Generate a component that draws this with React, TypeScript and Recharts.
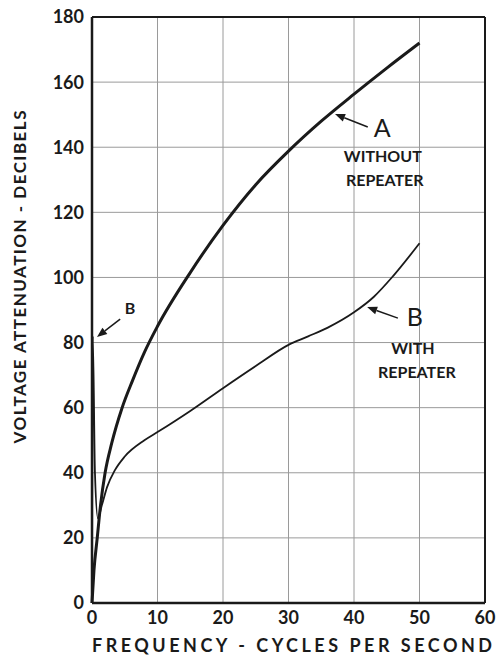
import React from "react";
import {
  LineChart,
  Line,
  XAxis,
  YAxis,
  CartesianGrid,
  ReferenceLine,
  ReferenceDot,
} from "recharts";

// curve A - without repeater (frequency, attenuation dB)
const freqA = [0, 0.3, 0.8, 1.3, 2, 3, 4.6, 6.2, 8, 10, 15, 20, 25, 30, 35, 40, 45, 50];
const dbA = [0, 10, 20, 30, 40, 49, 60, 68.4, 77, 85, 101.5, 116, 128.5, 138.8, 148, 156.3, 164.3, 172];

// curve B - with repeater
const freqB = [0, 0.12, 0.45, 0.9, 1.5, 2.3, 3.5, 5, 8, 10, 15, 20, 25, 30, 33, 36, 40, 43, 46, 50];
const dbB = [0, 82, 40, 26, 30, 35.6, 40.8, 45, 50, 52.5, 59, 66, 72.8, 79.3, 81.9, 84.6, 89.3, 94, 100.5, 110.5];

const xTicks = [0, 10, 20, 30, 40, 50, 60];
const yTicks = [0, 20, 40, 60, 80, 100, 120, 140, 160, 180];

const dataA = freqA.map((x, i) => ({ x, y: dbA[i] }));
const dataB = freqB.map((x, i) => ({ x, y: dbB[i] }));

const INK = "#1a1a1a";
const FONT = "Lato, 'DejaVu Sans', sans-serif";

// arrow drawn from (x1,y1) tail to (x2,y2) tip
const arrow = (props: any) => {
  const { x1, y1, x2, y2 } = props;
  const dx = x2 - x1, dy = y2 - y1;
  const len = Math.sqrt(dx * dx + dy * dy) || 1;
  const ux = dx / len, uy = dy / len;
  const hl = 10, hw = 4;
  const bx = x2 - ux * hl, by = y2 - uy * hl;
  const pts = `${x2},${y2} ${bx - uy * hw},${by + ux * hw} ${bx + uy * hw},${by - ux * hw}`;
  return (
    <g>
      <line x1={x1} y1={y1} x2={bx} y2={by} stroke={INK} strokeWidth={1.5} />
      <polygon points={pts} fill={INK} />
    </g>
  );
};

const note = (value: string, size: number, weight: number) => ({
  value,
  position: "center" as const,
  fontSize: size,
  fontWeight: weight,
  fill: INK,
  fontFamily: FONT,
});

export default function App() {
  return (
    <div style={{ position: "absolute", left: 0, top: 0, background: "#fff" }}>
      <LineChart
        width={503}
        height={658}
        margin={{ top: 17, right: 18, bottom: 0, left: 12 }}
      >
        <CartesianGrid stroke="#9a9a9a" strokeWidth={1} />
        <XAxis
          dataKey="x"
          type="number"
          domain={[0, 60]}
          ticks={xTicks}
          height={55}
          tickLine={false}
          axisLine={{ stroke: INK, strokeWidth: 2.5 }}
          tick={{ fill: INK, fontSize: 18, fontWeight: 700, fontFamily: FONT }}
          label={() => (
            <text
              x={292}
              y={647}
              textAnchor="middle"
              dominantBaseline="middle"
              textLength={400}
              lengthAdjust="spacing"
              fill={INK}
              fontSize={18}
              fontWeight={700}
              fontFamily={FONT}
            >
              FREQUENCY - CYCLES PER SECOND
            </text>
          )}
        />
        <YAxis
          type="number"
          domain={[0, 180]}
          ticks={yTicks}
          width={80}
          tickLine={false}
          axisLine={{ stroke: INK, strokeWidth: 2.5 }}
          tick={{ fill: INK, fontSize: 18, fontWeight: 700, fontFamily: FONT }}
          label={() => (
            <text
              x={22}
              y={277}
              transform="rotate(-90 22 277)"
              textAnchor="middle"
              dominantBaseline="middle"
              textLength={333}
              lengthAdjust="spacing"
              fill={INK}
              fontSize={17}
              fontWeight={700}
              fontFamily={FONT}
            >
              VOLTAGE ATTENUATION - DECIBELS
            </text>
          )}
        />
        <ReferenceLine y={180} stroke={INK} strokeWidth={2} />
        <ReferenceLine x={60} stroke={INK} strokeWidth={2} />

        <Line
          data={dataA}
          dataKey="y"
          type="monotone"
          stroke={INK}
          strokeWidth={3}
          dot={false}
          isAnimationActive={false}
        />
        <Line
          data={dataB}
          dataKey="y"
          type="monotone"
          stroke={INK}
          strokeWidth={1.8}
          dot={false}
          isAnimationActive={false}
        />

        {/* annotations */}
        <ReferenceLine segment={[{ x: 42.1, y: 146.2 }, { x: 37.1, y: 150.2 }]} shape={arrow} />
        <ReferenceDot x={44.3} y={145.9} r={0} stroke="none" label={note("A", 25, 400)} />
        <ReferenceDot x={44.4} y={137.3} r={0} stroke="none" label={note("WITHOUT", 16, 700)} />
        <ReferenceDot x={44.7} y={129.9} r={0} stroke="none" label={note("REPEATER", 16, 700)} />

        <ReferenceLine segment={[{ x: 46.7, y: 87.5 }, { x: 42.0, y: 90.9 }]} shape={arrow} />
        <ReferenceDot x={49.3} y={87.8} r={0} stroke="none" label={note("B", 25, 400)} />
        <ReferenceDot x={49.0} y={78.3} r={0} stroke="none" label={note("WITH", 16, 700)} />
        <ReferenceDot x={49.6} y={71.0} r={0} stroke="none" label={note("REPEATER", 16, 700)} />

        <ReferenceLine segment={[{ x: 4.3, y: 87.2 }, { x: 0.76, y: 81.7 }]} shape={arrow} />
        <ReferenceDot x={5.8} y={90.6} r={0} stroke="none" label={note("B", 16, 700)} />
      </LineChart>
    </div>
  );
}
